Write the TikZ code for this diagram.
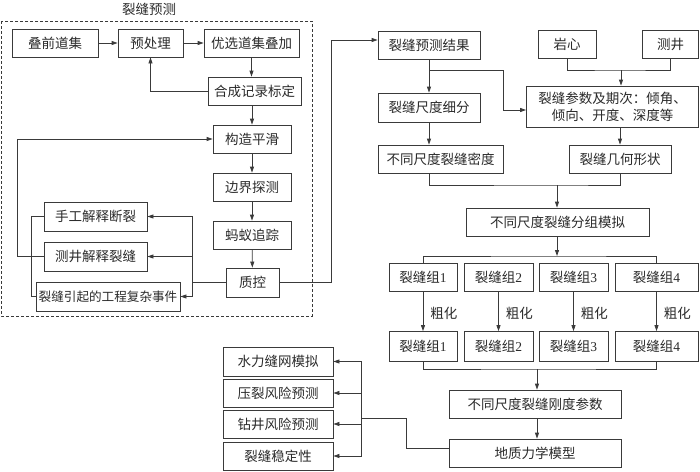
\documentclass[tikz,border=0pt]{standalone}
\usepackage{fontspec}
\setmainfont{Noto Sans CJK SC}
\newfontfamily\digf{Liberation Serif}
\usetikzlibrary{arrows.meta}
\definecolor{lc}{HTML}{3A3A3A}
\definecolor{tc}{HTML}{2A2A2A}
\begin{document}
\begin{tikzpicture}[x=1pt,y=-1pt,
  box/.style={draw=lc, line width=0.8pt, inner sep=0pt, minimum height=28pt, text=tc,
    font=\fontsize{13.5}{17}\selectfont, align=center},
  arr/.style={draw=lc, line width=0.8pt, -{Triangle[length=6pt,width=4pt]}},
  ln/.style={draw=lc, line width=0.8pt},
  lbl/.style={text=tc, font=\fontsize{13.5}{17}\selectfont, inner sep=0pt}]
\useasboundingbox (0,0) rectangle (700,471);

% ---- left block: fracture prediction ----
\draw[lc, dash pattern=on 3pt off 2pt, line width=0.8pt] (1,21) rectangle (312,316);
\node[lbl] (title) at (149,9) {裂缝预测};
\node[box, minimum width=86pt] (a1) at (55,43) {叠前道集};
\node[box, minimum width=65pt] (a2) at (150.5,43) {预处理};
\node[box, minimum width=95pt] (a3) at (251.5,43) {优选道集叠加};
\node[box, minimum width=93pt] (a4) at (254.5,91) {合成记录标定};
\node[box, minimum width=78pt] (a5) at (252,139) {构造平滑};
\node[box, minimum width=78pt] (a6) at (252,187) {边界探测};
\node[box, minimum width=78pt] (a7) at (252,235) {蚂蚁追踪};
\node[box, minimum width=53pt, minimum height=29pt] (a8) at (252.5,282.5) {质控};
\node[box, minimum width=103pt, minimum height=29pt] (b1) at (95.5,216.5) {手工解释断裂};
\node[box, minimum width=103pt, minimum height=29pt] (b2) at (95.5,256.5) {测井解释裂缝};
\node[box, minimum width=144pt, minimum height=29pt, font=\fontsize{12.6}{15}\selectfont] (b3) at (108,296.5) {裂缝引起的工程复杂事件};

\draw[arr] (a1) -- (a2);
\draw[arr] (a2) -- (a3);
\draw[arr] (a3.south) -- (a3.south |- a4.north);
\draw[arr] (a4.west) -| (a2.south);
\draw[arr] (a5.north |- a4.south) -- (a5.north);
\draw[arr] (a5) -- (a6);
\draw[arr] (a6) -- (a7);
\draw[arr] (a7) -- (a8);
\coordinate (j1) at (192,282.5);
\draw[ln] (a8.west) -- (j1);
\draw[arr] (j1) |- (b1.east);
\draw[arr] (j1) |- (b2.east);
\draw[arr] (j1) |- (b3.east);
\draw[arr] (b2.west) -- ++(-26,0) |- (a5.west);
\draw[ln] (b1.west) -- ++(-12,0) |- (b3.west);

% ---- right block ----
\node[box, minimum width=102pt] (c1) at (429,45) {裂缝预测结果};
\node[box, minimum width=58pt] (c2) at (567,44) {岩心};
\node[box, minimum width=56pt] (c3) at (670.5,44) {测井};
\node[box, minimum width=172pt, minimum height=41pt] (c4) at (612.5,106.5) {裂缝参数及期次：倾角、\\倾向、开度、深度等};
\node[box, minimum width=102pt, minimum height=29pt] (c5) at (429,107.5) {裂缝尺度细分};
\node[box, minimum width=125pt] (c6) at (440.5,159) {不同尺度裂缝密度};
\node[box, minimum width=102pt] (c7) at (620,159) {裂缝几何形状};
\node[box, minimum width=183pt] (d1) at (557.5,222) {不同尺度裂缝分组模拟};

\node[box, minimum width=68pt] (e1) at (423,277) {裂缝组{\digf 1}};
\node[box, minimum width=69pt] (e2) at (498.5,277) {裂缝组{\digf 2}};
\node[box, minimum width=69pt] (e3) at (573.5,277) {裂缝组{\digf 3}};
\node[box, minimum width=83pt] (e4) at (656.5,277) {裂缝组{\digf 4}};
\node[box, minimum width=68pt, minimum height=30pt] (f1) at (423,346.5) {裂缝组{\digf 1}};
\node[box, minimum width=69pt, minimum height=30pt] (f2) at (498.5,346.5) {裂缝组{\digf 2}};
\node[box, minimum width=69pt, minimum height=30pt] (f3) at (573.5,346.5) {裂缝组{\digf 3}};
\node[box, minimum width=83pt, minimum height=30pt] (f4) at (656.5,346.5) {裂缝组{\digf 4}};

\node[box, minimum width=172pt] (g1) at (535,404) {不同尺度裂缝刚度参数};
\node[box, minimum width=172pt] (g2) at (535,453) {地质力学模型};

\node[box, minimum width=110pt, minimum height=29pt] (h1) at (278,361.5) {水力缝网模拟};
\node[box, minimum width=110pt] (h2) at (278,393) {压裂风险预测};
\node[box, minimum width=110pt] (h3) at (278,424) {钻井风险预测};
\node[box, minimum width=110pt] (h4) at (278,456) {裂缝稳定性};

\coordinate (j2) at (331,282.5);
\draw[arr] (a8.east) -- (j2) |- ([yshift=5pt]c1.west);

\draw[arr] (c1) -- (c5);
\coordinate (j3) at (429,70);
\coordinate (k1) at (503,110);
\draw[arr] (j3) -| (k1) -- (k1 -| c4.west);
\coordinate (m1) at (621,70);
\draw[ln] (c2.south) |- (m1) -| (c3.south);
\draw[arr] (m1) -- (m1 |- c4.north);
\draw[arr] (c7.north |- c4.south) -- (c7.north);
\draw[arr] (c5.south) -- (c5.south |- c6.north);
\coordinate (m2) at (557,185);
\draw[ln] (c6.south -| c5.south) |- (m2) -| (c7.south);
\draw[arr] (m2) -- (m2 |- d1.north);
\coordinate (m3) at (557,256);
\draw[arr] (d1.south -| m3) -- (m3);
\draw[ln] (e1.north) |- (m3) -| (e4.north);

\draw[arr] (e1) -- (f1) node[lbl, midway, right=7pt, yshift=-2pt] {粗化};
\draw[arr] (e2) -- (f2) node[lbl, midway, right=7pt, yshift=-2pt] {粗化};
\draw[arr] (e3) -- (f3) node[lbl, midway, right=7pt, yshift=-2pt] {粗化};
\draw[arr] (e4) -- (f4) node[lbl, midway, right=7pt, yshift=-2pt] {粗化};

\coordinate (m4) at (537,369);
\draw[ln] (f1.south) |- (m4) -| (f4.south);
\draw[arr] (m4) -- (m4 |- g1.north);
\draw[arr] (m4 |- g1.south) -- (m4 |- g2.north);

\coordinate (m5) at (361,418);
\coordinate (m6) at (406,418);
\draw[ln] ([yshift=5pt]g2.west) -| (m6) -- (m5);
\draw[arr] (m5) |- (h1.east);
\draw[arr] (m5) |- (h2.east);
\draw[arr] (m5) |- (h3.east);
\draw[arr] (m5) |- (h4.east);
\end{tikzpicture}
\end{document}
